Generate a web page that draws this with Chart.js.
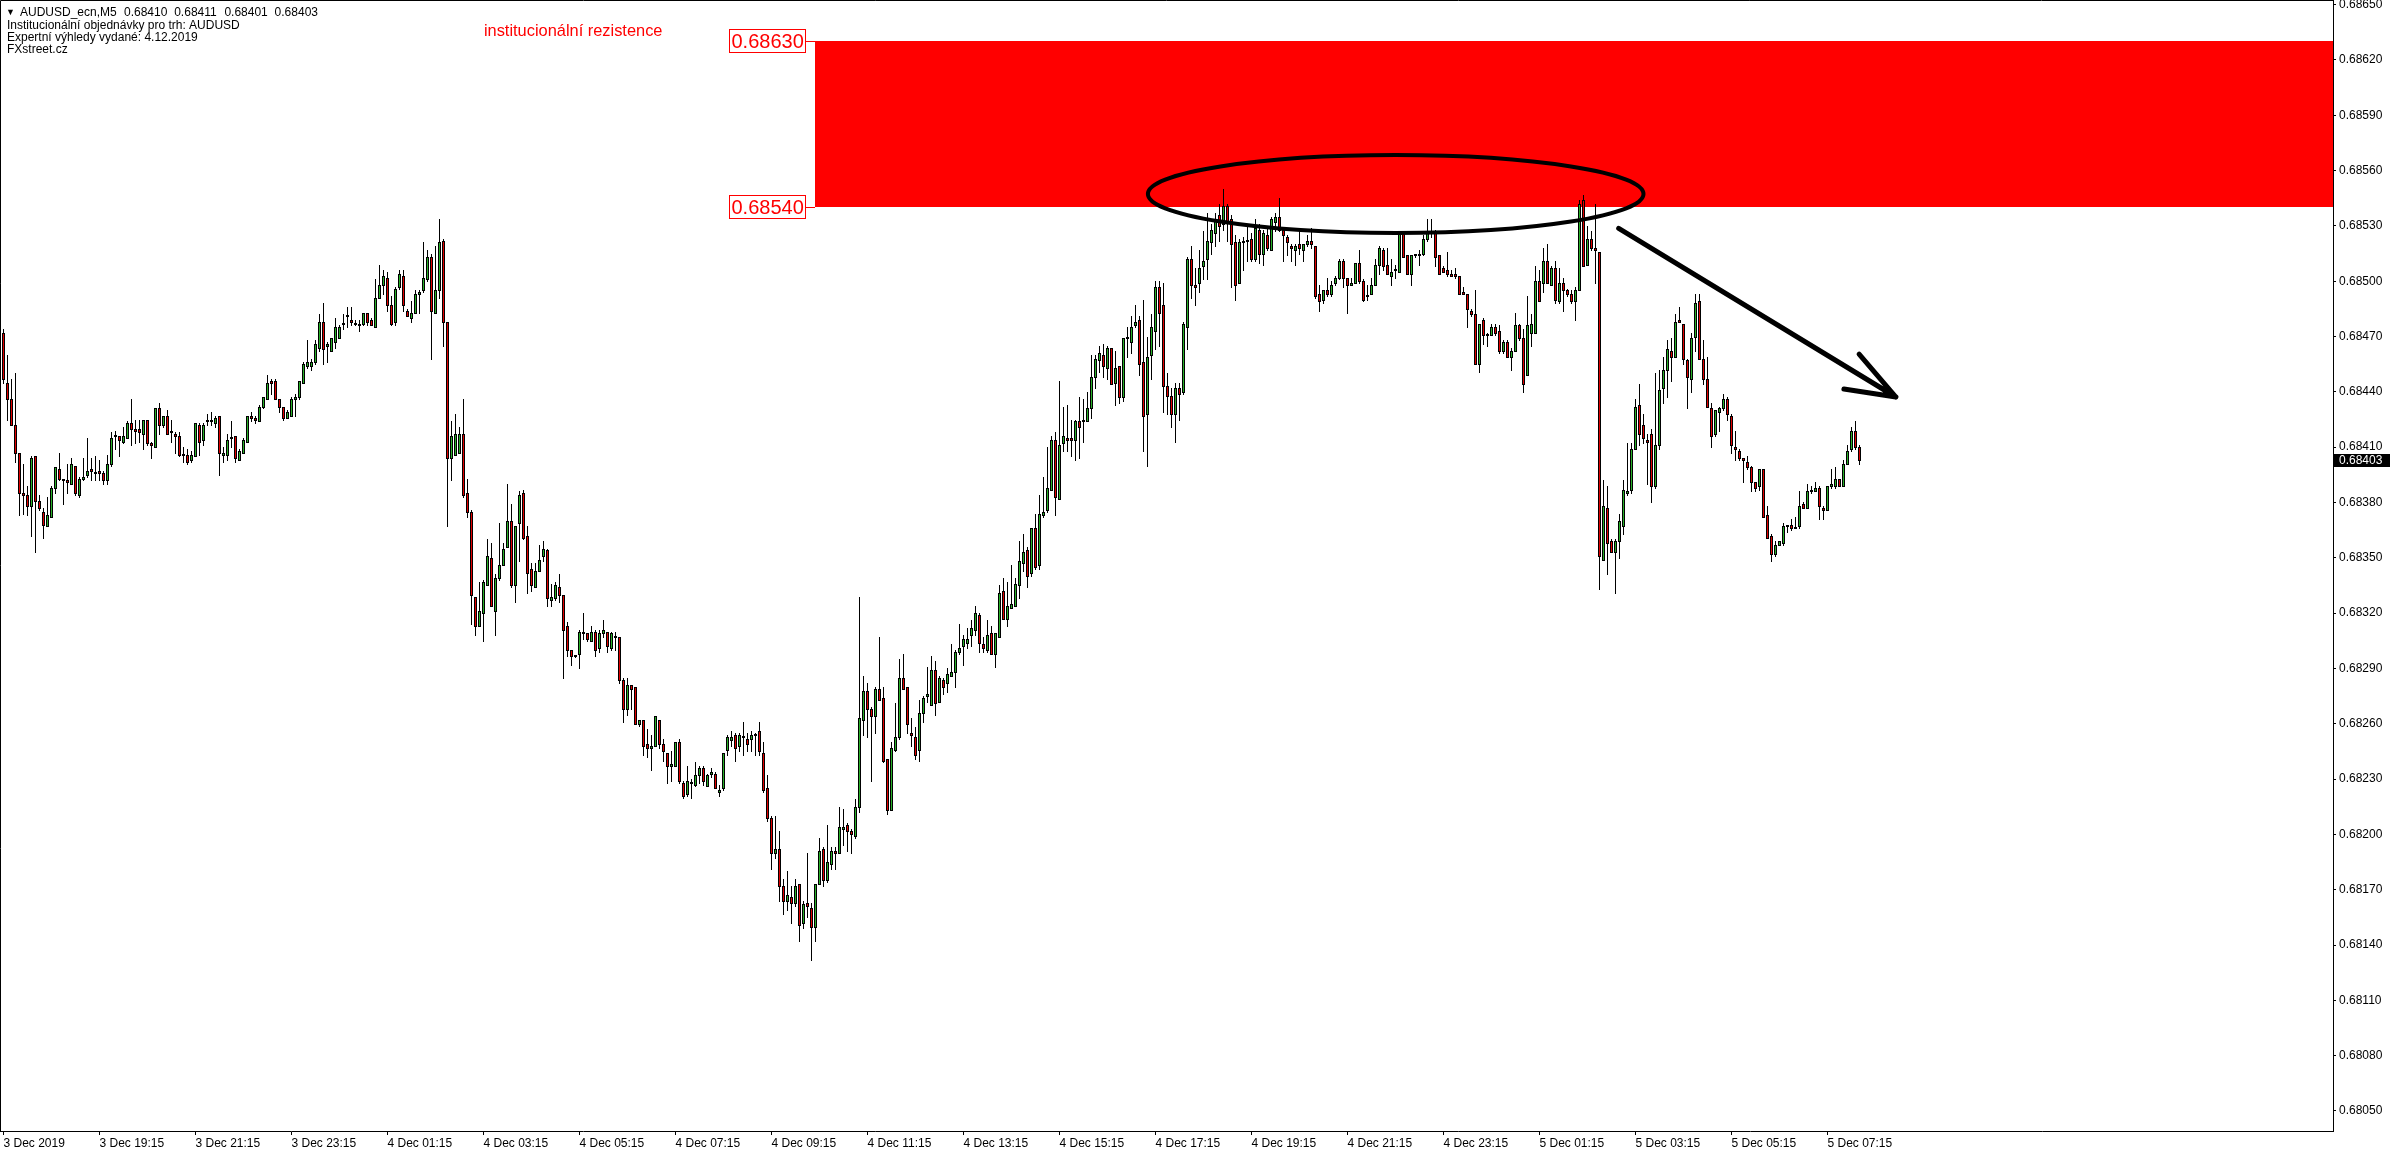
<!DOCTYPE html>
<html>
<head>
<meta charset="utf-8">
<title>AUDUSD_ecn M5</title>
<script src="https://cdn.jsdelivr.net/npm/chart.js@4.4.1/dist/chart.umd.min.js"></script>
<style>
html,body{margin:0;padding:0;background:#ffffff;overflow:hidden;}
canvas{display:block;}
</style>
</head>
<body>
<canvas id="chart" width="2396" height="1154"></canvas>
<script>
// ---------------- data ----------------
const symbolTitle = 'AUDUSD_ecn,M5';
const infoLines = ['Institucionální objednávky pro trh: AUDUSD', 'Expertní výhledy vydané: 4.12.2019', 'FXstreet.cz'];
const zoneTitle = 'institucionální rezistence';

const xTickBars = [0,24,48,72,96,120,144,168,192,216,240,264,288,312,336,360,384,408,432,456];
const xTickLabels = ['3 Dec 2019','3 Dec 19:15','3 Dec 21:15','3 Dec 23:15','4 Dec 01:15','4 Dec 03:15','4 Dec 05:15','4 Dec 07:15','4 Dec 09:15','4 Dec 11:15','4 Dec 13:15','4 Dec 15:15','4 Dec 17:15','4 Dec 19:15','4 Dec 21:15','4 Dec 23:15','5 Dec 01:15','5 Dec 03:15','5 Dec 05:15','5 Dec 07:15'];
const yTickValues = [0.68050,0.68080,0.68110,0.68140,0.68170,0.68200,0.68230,0.68260,0.68290,0.68320,0.68350,0.68380,0.68410,0.68440,0.68470,0.68500,0.68530,0.68560,0.68590,0.68620,0.68650];

const openPrices = [
0.68472,0.68445,0.68436,0.68422,0.68407,0.68385,0.68384,0.68378,0.68405,0.68381,
0.68375,0.68367,0.68372,0.68388,0.68398,0.68392,0.68392,0.68390,0.68400,0.68384,
0.68393,0.68395,0.68398,0.68396,0.68397,0.68396,0.68392,0.68401,0.68416,0.68416,
0.68413,0.68415,0.68423,0.68420,0.68420,0.68417,0.68425,0.68412,0.68410,0.68431,
0.68422,0.68427,0.68419,0.68417,0.68416,0.68406,0.68406,0.68403,0.68405,0.68422,
0.68414,0.68425,0.68424,0.68423,0.68427,0.68406,0.68406,0.68415,0.68416,0.68403,
0.68407,0.68413,0.68427,0.68426,0.68424,0.68432,0.68436,0.68446,0.68446,0.68436,
0.68432,0.68426,0.68427,0.68436,0.68437,0.68445,0.68454,0.68454,0.68456,0.68464,
0.68478,0.68465,0.68462,0.68467,0.68469,0.68477,0.68481,0.68479,0.68477,0.68476,
0.68477,0.68483,0.68479,0.68475,0.68491,0.68498,0.68502,0.68487,0.68478,0.68497,
0.68503,0.68484,0.68480,0.68483,0.68493,0.68495,0.68501,0.68513,0.68483,0.68495,
0.68522,0.68478,0.68404,0.68406,0.68407,0.68417,0.68385,0.68375,0.68329,0.68313,
0.68320,0.68335,0.68350,0.68321,0.68339,0.68346,0.68356,0.68370,0.68335,0.68369,
0.68385,0.68362,0.68344,0.68334,0.68343,0.68351,0.68354,0.68327,0.68328,0.68334,
0.68330,0.68313,0.68300,0.68297,0.68298,0.68309,0.68309,0.68305,0.68310,0.68301,
0.68309,0.68310,0.68301,0.68307,0.68307,0.68284,0.68268,0.68281,0.68280,0.68260,
0.68262,0.68249,0.68247,0.68248,0.68262,0.68249,0.68244,0.68237,0.68237,0.68250,
0.68228,0.68222,0.68228,0.68227,0.68232,0.68236,0.68226,0.68233,0.68233,0.68223,
0.68225,0.68246,0.68251,0.68254,0.68248,0.68253,0.68252,0.68252,0.68254,0.68256,
0.68244,0.68225,0.68209,0.68190,0.68192,0.68172,0.68164,0.68166,0.68163,0.68173,
0.68152,0.68163,0.68160,0.68150,0.68173,0.68192,0.68175,0.68184,0.68191,0.68190,
0.68203,0.68205,0.68202,0.68199,0.68215,0.68262,0.68278,0.68268,0.68264,0.68279,
0.68274,0.68241,0.68213,0.68246,0.68253,0.68285,0.68280,0.68255,0.68253,0.68246,
0.68266,0.68275,0.68270,0.68289,0.68272,0.68284,0.68282,0.68286,0.68288,0.68299,
0.68302,0.68304,0.68308,0.68311,0.68319,0.68303,0.68300,0.68309,0.68298,0.68307,
0.68332,0.68317,0.68323,0.68324,0.68335,0.68347,0.68354,0.68342,0.68366,0.68346,
0.68373,0.68376,0.68387,0.68414,0.68382,0.68412,0.68415,0.68415,0.68414,0.68424,
0.68424,0.68424,0.68431,0.68448,0.68457,0.68460,0.68453,0.68464,0.68445,0.68454,
0.68437,0.68469,0.68467,0.68476,0.68479,0.68456,0.68428,0.68460,0.68473,0.68497,
0.68487,0.68443,0.68438,0.68428,0.68442,0.68440,0.68475,0.68512,0.68498,0.68499,
0.68508,0.68512,0.68521,0.68526,0.68536,0.68531,0.68541,0.68534,0.68521,0.68499,
0.68521,0.68522,0.68523,0.68512,0.68528,0.68515,0.68525,0.68517,0.68532,0.68535,
0.68528,0.68524,0.68519,0.68517,0.68520,0.68517,0.68520,0.68522,0.68519,0.68493,
0.68490,0.68495,0.68493,0.68499,0.68502,0.68511,0.68502,0.68498,0.68499,0.68510,
0.68500,0.68492,0.68493,0.68498,0.68509,0.68517,0.68509,0.68503,0.68506,0.68505,
0.68526,0.68514,0.68504,0.68514,0.68515,0.68515,0.68523,0.68527,0.68527,0.68514,
0.68507,0.68506,0.68504,0.68504,0.68503,0.68494,0.68493,0.68484,0.68482,0.68455,
0.68479,0.68471,0.68471,0.68475,0.68473,0.68462,0.68467,0.68459,0.68462,0.68476,
0.68469,0.68449,0.68472,0.68472,0.68500,0.68499,0.68511,0.68498,0.68507,0.68489,
0.68499,0.68495,0.68493,0.68489,0.68495,0.68544,0.68509,0.68523,0.68518,0.68516,
0.68349,0.68377,0.68359,0.68353,0.68359,0.68367,0.68385,0.68387,0.68409,0.68433,
0.68422,0.68414,0.68417,0.68389,0.68411,0.68442,0.68452,0.68462,0.68459,0.68479,
0.68477,0.68457,0.68447,0.68470,0.68489,0.68458,0.68447,0.68431,0.68417,0.68429,
0.68431,0.68436,0.68427,0.68410,0.68408,0.68404,0.68402,0.68399,0.68391,0.68389,
0.68398,0.68373,0.68362,0.68352,0.68357,0.68358,0.68367,0.68368,0.68366,0.68367,
0.68379,0.68377,0.68387,0.68386,0.68388,0.68377,0.68376,0.68389,0.68389,0.68393,
0.68389,0.68401,0.68409,0.68419,0.68410];

const highPrices = [
0.68474,0.68460,0.68447,0.68450,0.68407,0.68401,0.68389,0.68405,0.68405,0.68384,
0.68377,0.68383,0.68389,0.68399,0.68407,0.68393,0.68401,0.68404,0.68400,0.68394,
0.68404,0.68415,0.68404,0.68405,0.68403,0.68397,0.68406,0.68418,0.68419,0.68416,
0.68421,0.68424,0.68436,0.68425,0.68425,0.68425,0.68425,0.68413,0.68431,0.68434,
0.68427,0.68430,0.68425,0.68418,0.68418,0.68410,0.68409,0.68408,0.68423,0.68423,
0.68423,0.68428,0.68429,0.68427,0.68427,0.68410,0.68417,0.68424,0.68416,0.68409,
0.68415,0.68427,0.68429,0.68427,0.68433,0.68437,0.68449,0.68447,0.68447,0.68436,
0.68432,0.68430,0.68437,0.68439,0.68446,0.68456,0.68468,0.68458,0.68468,0.68482,
0.68488,0.68467,0.68469,0.68480,0.68476,0.68482,0.68486,0.68486,0.68479,0.68479,
0.68483,0.68483,0.68480,0.68501,0.68509,0.68506,0.68505,0.68492,0.68497,0.68506,
0.68506,0.68485,0.68489,0.68495,0.68495,0.68521,0.68517,0.68515,0.68519,0.68534,
0.68523,0.68478,0.68424,0.68428,0.68421,0.68436,0.68393,0.68376,0.68329,0.68337,
0.68338,0.68360,0.68358,0.68341,0.68369,0.68358,0.68390,0.68379,0.68367,0.68386,
0.68387,0.68367,0.68347,0.68347,0.68357,0.68359,0.68355,0.68336,0.68337,0.68341,
0.68330,0.68315,0.68300,0.68297,0.68311,0.68320,0.68309,0.68313,0.68311,0.68311,
0.68316,0.68310,0.68310,0.68310,0.68307,0.68285,0.68285,0.68281,0.68280,0.68262,
0.68262,0.68257,0.68254,0.68264,0.68262,0.68252,0.68244,0.68245,0.68250,0.68252,
0.68229,0.68237,0.68230,0.68239,0.68237,0.68237,0.68233,0.68236,0.68234,0.68227,
0.68244,0.68254,0.68256,0.68255,0.68255,0.68261,0.68255,0.68256,0.68255,0.68261,
0.68250,0.68232,0.68210,0.68210,0.68202,0.68176,0.68180,0.68172,0.68176,0.68173,
0.68164,0.68190,0.68163,0.68173,0.68198,0.68193,0.68205,0.68193,0.68193,0.68215,
0.68214,0.68206,0.68203,0.68219,0.68329,0.68286,0.68282,0.68269,0.68280,0.68307,
0.68280,0.68241,0.68250,0.68271,0.68295,0.68298,0.68280,0.68263,0.68258,0.68273,
0.68275,0.68291,0.68297,0.68294,0.68286,0.68285,0.68290,0.68303,0.68300,0.68314,
0.68308,0.68312,0.68316,0.68324,0.68320,0.68307,0.68316,0.68313,0.68309,0.68335,
0.68339,0.68337,0.68346,0.68339,0.68359,0.68363,0.68356,0.68366,0.68374,0.68384,
0.68394,0.68410,0.68416,0.68418,0.68446,0.68432,0.68433,0.68425,0.68425,0.68437,
0.68436,0.68440,0.68460,0.68460,0.68465,0.68466,0.68465,0.68464,0.68462,0.68454,
0.68469,0.68475,0.68481,0.68487,0.68481,0.68490,0.68470,0.68482,0.68500,0.68500,
0.68499,0.68450,0.68442,0.68445,0.68445,0.68478,0.68513,0.68519,0.68507,0.68517,
0.68527,0.68537,0.68531,0.68537,0.68542,0.68550,0.68542,0.68536,0.68525,0.68523,
0.68524,0.68531,0.68526,0.68534,0.68531,0.68528,0.68530,0.68535,0.68537,0.68545,
0.68529,0.68525,0.68520,0.68520,0.68528,0.68520,0.68525,0.68529,0.68519,0.68498,
0.68495,0.68502,0.68500,0.68503,0.68512,0.68512,0.68502,0.68502,0.68510,0.68517,
0.68501,0.68498,0.68502,0.68512,0.68519,0.68518,0.68518,0.68512,0.68509,0.68527,
0.68527,0.68514,0.68514,0.68515,0.68517,0.68525,0.68534,0.68534,0.68528,0.68514,
0.68508,0.68516,0.68506,0.68507,0.68503,0.68497,0.68493,0.68485,0.68495,0.68477,
0.68480,0.68472,0.68477,0.68477,0.68476,0.68468,0.68468,0.68464,0.68483,0.68477,
0.68474,0.68492,0.68482,0.68508,0.68506,0.68518,0.68520,0.68508,0.68511,0.68507,
0.68502,0.68496,0.68495,0.68497,0.68544,0.68547,0.68530,0.68527,0.68542,0.68516,
0.68392,0.68389,0.68360,0.68360,0.68374,0.68392,0.68412,0.68412,0.68436,0.68444,
0.68428,0.68417,0.68420,0.68450,0.68452,0.68459,0.68468,0.68469,0.68482,0.68486,
0.68477,0.68458,0.68472,0.68493,0.68493,0.68468,0.68459,0.68434,0.68430,0.68432,
0.68439,0.68437,0.68428,0.68419,0.68409,0.68404,0.68405,0.68400,0.68391,0.68398,
0.68398,0.68378,0.68363,0.68359,0.68359,0.68369,0.68368,0.68371,0.68372,0.68386,
0.68380,0.68390,0.68389,0.68391,0.68389,0.68378,0.68389,0.68398,0.68399,0.68393,
0.68403,0.68411,0.68421,0.68424,0.68411];

const lowPrices = [
0.68445,0.68425,0.68422,0.68402,0.68373,0.68374,0.68373,0.68362,0.68353,0.68376,
0.68361,0.68367,0.68372,0.68385,0.68392,0.68379,0.68385,0.68390,0.68384,0.68383,
0.68392,0.68394,0.68392,0.68392,0.68392,0.68390,0.68390,0.68400,0.68409,0.68405,
0.68412,0.68415,0.68411,0.68412,0.68413,0.68409,0.68411,0.68404,0.68410,0.68417,
0.68421,0.68417,0.68413,0.68407,0.68405,0.68402,0.68401,0.68402,0.68405,0.68406,
0.68411,0.68422,0.68422,0.68421,0.68395,0.68402,0.68403,0.68410,0.68402,0.68403,
0.68407,0.68413,0.68424,0.68423,0.68424,0.68431,0.68436,0.68439,0.68436,0.68429,
0.68425,0.68426,0.68427,0.68427,0.68436,0.68445,0.68453,0.68452,0.68455,0.68462,
0.68455,0.68456,0.68462,0.68464,0.68469,0.68474,0.68475,0.68476,0.68476,0.68473,
0.68476,0.68476,0.68476,0.68475,0.68491,0.68493,0.68484,0.68476,0.68476,0.68496,
0.68484,0.68481,0.68478,0.68483,0.68483,0.68494,0.68500,0.68458,0.68483,0.68491,
0.68465,0.68367,0.68392,0.68406,0.68407,0.68383,0.68372,0.68314,0.68308,0.68313,
0.68305,0.68335,0.68324,0.68308,0.68338,0.68346,0.68356,0.68334,0.68326,0.68348,
0.68360,0.68331,0.68332,0.68334,0.68343,0.68348,0.68324,0.68324,0.68327,0.68326,
0.68285,0.68297,0.68292,0.68296,0.68290,0.68306,0.68305,0.68305,0.68297,0.68299,
0.68307,0.68299,0.68300,0.68300,0.68282,0.68261,0.68265,0.68268,0.68260,0.68259,
0.68243,0.68242,0.68235,0.68248,0.68247,0.68240,0.68228,0.68229,0.68237,0.68228,
0.68220,0.68221,0.68220,0.68226,0.68228,0.68227,0.68226,0.68231,0.68225,0.68221,
0.68224,0.68243,0.68248,0.68240,0.68245,0.68243,0.68245,0.68245,0.68243,0.68243,
0.68223,0.68207,0.68181,0.68187,0.68164,0.68157,0.68159,0.68152,0.68161,0.68142,
0.68149,0.68155,0.68132,0.68142,0.68173,0.68172,0.68174,0.68181,0.68181,0.68190,
0.68194,0.68191,0.68190,0.68198,0.68212,0.68254,0.68253,0.68229,0.68255,0.68273,
0.68239,0.68211,0.68213,0.68245,0.68252,0.68279,0.68255,0.68248,0.68241,0.68240,
0.68261,0.68272,0.68270,0.68265,0.68272,0.68276,0.68277,0.68286,0.68280,0.68298,
0.68292,0.68301,0.68302,0.68308,0.68299,0.68299,0.68299,0.68298,0.68291,0.68307,
0.68317,0.68313,0.68323,0.68324,0.68328,0.68343,0.68334,0.68340,0.68344,0.68344,
0.68372,0.68375,0.68387,0.68373,0.68382,0.68408,0.68408,0.68405,0.68403,0.68404,
0.68413,0.68424,0.68426,0.68442,0.68451,0.68448,0.68447,0.68444,0.68433,0.68434,
0.68435,0.68459,0.68461,0.68475,0.68449,0.68408,0.68400,0.68447,0.68463,0.68465,
0.68429,0.68428,0.68421,0.68413,0.68425,0.68439,0.68463,0.68491,0.68487,0.68494,
0.68501,0.68501,0.68515,0.68519,0.68522,0.68528,0.68522,0.68497,0.68490,0.68499,
0.68506,0.68511,0.68511,0.68511,0.68510,0.68509,0.68517,0.68517,0.68527,0.68527,
0.68511,0.68514,0.68511,0.68509,0.68515,0.68511,0.68519,0.68518,0.68491,0.68484,
0.68488,0.68492,0.68492,0.68498,0.68501,0.68497,0.68483,0.68498,0.68499,0.68499,
0.68489,0.68490,0.68493,0.68498,0.68504,0.68506,0.68504,0.68498,0.68502,0.68505,
0.68513,0.68504,0.68498,0.68513,0.68509,0.68514,0.68522,0.68524,0.68508,0.68504,
0.68505,0.68503,0.68503,0.68502,0.68493,0.68493,0.68475,0.68481,0.68455,0.68451,
0.68466,0.68465,0.68471,0.68471,0.68461,0.68461,0.68459,0.68452,0.68462,0.68468,
0.68440,0.68449,0.68465,0.68472,0.68489,0.68494,0.68499,0.68498,0.68488,0.68488,
0.68484,0.68492,0.68488,0.68479,0.68495,0.68508,0.68509,0.68517,0.68499,0.68333,
0.68349,0.68341,0.68353,0.68331,0.68350,0.68363,0.68384,0.68385,0.68409,0.68411,
0.68412,0.68390,0.68380,0.68388,0.68409,0.68434,0.68437,0.68446,0.68459,0.68478,
0.68455,0.68431,0.68440,0.68462,0.68458,0.68444,0.68432,0.68410,0.68416,0.68419,
0.68430,0.68425,0.68407,0.68403,0.68403,0.68391,0.68398,0.68386,0.68386,0.68387,
0.68372,0.68361,0.68348,0.68351,0.68357,0.68357,0.68364,0.68365,0.68366,0.68366,
0.68377,0.68377,0.68385,0.68386,0.68371,0.68371,0.68376,0.68388,0.68388,0.68389,
0.68389,0.68401,0.68408,0.68409,0.68401];

const closePrices = [
0.68447,0.68436,0.68422,0.68407,0.68385,0.68384,0.68378,0.68404,0.68381,0.68377,
0.68368,0.68373,0.68388,0.68399,0.68393,0.68392,0.68391,0.68401,0.68385,0.68393,
0.68394,0.68397,0.68397,0.68396,0.68396,0.68392,0.68401,0.68415,0.68416,0.68414,
0.68416,0.68423,0.68420,0.68419,0.68418,0.68425,0.68412,0.68411,0.68431,0.68422,
0.68427,0.68417,0.68418,0.68416,0.68406,0.68406,0.68402,0.68406,0.68423,0.68413,
0.68422,0.68424,0.68424,0.68426,0.68407,0.68407,0.68414,0.68415,0.68404,0.68408,
0.68414,0.68427,0.68426,0.68425,0.68432,0.68437,0.68445,0.68445,0.68436,0.68432,
0.68426,0.68429,0.68436,0.68437,0.68446,0.68455,0.68456,0.68456,0.68466,0.68478,
0.68463,0.68466,0.68469,0.68475,0.68475,0.68477,0.68481,0.68478,0.68477,0.68476,
0.68483,0.68478,0.68476,0.68491,0.68498,0.68503,0.68487,0.68477,0.68496,0.68504,
0.68487,0.68481,0.68483,0.68493,0.68494,0.68502,0.68513,0.68484,0.68495,0.68521,
0.68478,0.68404,0.68416,0.68417,0.68417,0.68384,0.68375,0.68330,0.68313,0.68321,
0.68337,0.68351,0.68324,0.68339,0.68346,0.68355,0.68370,0.68335,0.68367,0.68384,
0.68361,0.68342,0.68335,0.68343,0.68349,0.68355,0.68328,0.68329,0.68335,0.68330,
0.68311,0.68300,0.68297,0.68297,0.68310,0.68309,0.68306,0.68310,0.68300,0.68309,
0.68311,0.68302,0.68309,0.68307,0.68284,0.68268,0.68281,0.68279,0.68260,0.68262,
0.68248,0.68247,0.68248,0.68264,0.68249,0.68245,0.68237,0.68238,0.68250,0.68229,
0.68221,0.68229,0.68228,0.68232,0.68236,0.68229,0.68232,0.68234,0.68225,0.68224,
0.68244,0.68253,0.68253,0.68247,0.68254,0.68253,0.68249,0.68254,0.68254,0.68245,
0.68224,0.68209,0.68190,0.68192,0.68172,0.68164,0.68167,0.68163,0.68172,0.68151,
0.68162,0.68161,0.68150,0.68173,0.68191,0.68175,0.68185,0.68191,0.68190,0.68204,
0.68204,0.68202,0.68200,0.68215,0.68263,0.68278,0.68268,0.68264,0.68279,0.68273,
0.68240,0.68213,0.68247,0.68253,0.68285,0.68279,0.68260,0.68254,0.68243,0.68266,
0.68274,0.68276,0.68289,0.68271,0.68285,0.68280,0.68287,0.68288,0.68299,0.68301,
0.68306,0.68306,0.68312,0.68320,0.68304,0.68301,0.68308,0.68298,0.68309,0.68331,
0.68317,0.68324,0.68325,0.68336,0.68348,0.68353,0.68340,0.68366,0.68345,0.68374,
0.68375,0.68388,0.68414,0.68383,0.68411,0.68416,0.68414,0.68414,0.68424,0.68421,
0.68424,0.68431,0.68448,0.68458,0.68461,0.68454,0.68464,0.68444,0.68453,0.68437,
0.68469,0.68469,0.68475,0.68478,0.68455,0.68427,0.68459,0.68475,0.68497,0.68483,
0.68443,0.68438,0.68428,0.68442,0.68439,0.68477,0.68512,0.68498,0.68497,0.68507,
0.68511,0.68522,0.68528,0.68533,0.68530,0.68541,0.68532,0.68520,0.68498,0.68521,
0.68522,0.68522,0.68512,0.68529,0.68515,0.68526,0.68518,0.68534,0.68535,0.68528,
0.68525,0.68521,0.68518,0.68519,0.68518,0.68520,0.68522,0.68520,0.68492,0.68489,
0.68495,0.68493,0.68498,0.68502,0.68511,0.68502,0.68498,0.68499,0.68510,0.68500,
0.68490,0.68492,0.68498,0.68509,0.68518,0.68508,0.68504,0.68505,0.68506,0.68526,
0.68513,0.68504,0.68514,0.68514,0.68514,0.68523,0.68526,0.68526,0.68513,0.68504,
0.68505,0.68504,0.68503,0.68503,0.68493,0.68493,0.68485,0.68482,0.68455,0.68477,
0.68471,0.68471,0.68475,0.68472,0.68462,0.68467,0.68459,0.68462,0.68476,0.68469,
0.68444,0.68476,0.68477,0.68500,0.68489,0.68511,0.68499,0.68507,0.68490,0.68499,
0.68495,0.68493,0.68489,0.68495,0.68542,0.68508,0.68523,0.68518,0.68517,0.68351,
0.68378,0.68358,0.68353,0.68359,0.68370,0.68387,0.68386,0.68409,0.68432,0.68417,
0.68415,0.68413,0.68389,0.68411,0.68441,0.68452,0.68463,0.68459,0.68478,0.68478,
0.68458,0.68448,0.68469,0.68488,0.68458,0.68447,0.68432,0.68416,0.68430,0.68431,
0.68436,0.68428,0.68411,0.68409,0.68404,0.68403,0.68399,0.68391,0.68388,0.68398,
0.68372,0.68361,0.68352,0.68357,0.68359,0.68367,0.68367,0.68366,0.68366,0.68378,
0.68377,0.68386,0.68386,0.68388,0.68378,0.68376,0.68389,0.68390,0.68393,0.68389,
0.68401,0.68408,0.68419,0.68410,0.68403];

// drawn objects, in chart coordinates (bar index, price)
const zoneTop = 0.68630;
const zoneBottom = 0.68540;
const zoneStartBar = 202.9;
const zoneTitleAnchor = [120.1, 0.686353];
const ellipseBars = [286.1, 410.0];
const ellipsePrices = [0.685262, 0.685684];
const arrowFrom = [403.8, 0.685287];
const arrowTo = [473.1, 0.684372];
const arrowBarbs = [[463.9, 0.684605], [460.1, 0.684415]];

// visible ranges of the axes
const xRange = [-0.875, 582.375];
const yRange = [0.6803915, 0.686525];

// ---------------- styling ----------------
const BULL = '#28B028';
const BEAR = '#E00000';
const FONT = "'Liberation Sans', Arial, sans-serif";

const wickData = lowPrices.map((l, i) => ({x: i, y: [l, highPrices[i]]}));
const bodyData = openPrices.map((o, i) => ({x: i, y: [Math.min(o, closePrices[i]), Math.max(o, closePrices[i])]}));
const bodyColors = openPrices.map((o, i) => closePrices[i] > o ? BULL : (closePrices[i] < o ? BEAR : '#000000'));

// snap the library-computed bar edges to whole pixels, as the terminal does
const pixelSnap = {
  id: 'pixelSnap',
  beforeDatasetsDraw(chart) {
    chart.data.datasets.forEach((ds, k) => {
      chart.getDatasetMeta(k).data.forEach(el => {
        const top = Math.round(Math.min(el.y, el.base));
        const bot = Math.round(Math.max(el.y, el.base)) + 1;
        el.y = top; el.base = bot;
      });
    });
  }
};

const overlay = {
  id: 'overlay',
  beforeDatasetsDraw(chart) {
    const {ctx, chartArea: a, scales: {x, y}} = chart;
    const xl = x.getPixelForValue(zoneStartBar);
    const yt = y.getPixelForValue(zoneTop);
    const yb = y.getPixelForValue(zoneBottom);
    ctx.save();
    ctx.fillStyle = '#FF0000';
    ctx.fillRect(Math.round(xl), Math.round(yt), a.right - Math.round(xl), Math.round(yb) - Math.round(yt));
    ctx.restore();
  },
  afterDatasetsDraw(chart) {
    const {ctx, scales: {x, y}} = chart;
    ctx.save();
    // ellipse
    const x1 = x.getPixelForValue(ellipseBars[0]), x2 = x.getPixelForValue(ellipseBars[1]);
    const y1 = y.getPixelForValue(ellipsePrices[1]), y2 = y.getPixelForValue(ellipsePrices[0]);
    ctx.strokeStyle = '#000000';
    ctx.lineWidth = 4;
    ctx.beginPath();
    ctx.ellipse((x1 + x2) / 2, (y1 + y2) / 2, (x2 - x1) / 2, (y2 - y1) / 2, 0, 0, Math.PI * 2);
    ctx.stroke();
    // arrow
    const P = p => [x.getPixelForValue(p[0]), y.getPixelForValue(p[1])];
    const a0 = P(arrowFrom), a1 = P(arrowTo);
    ctx.lineWidth = 5;
    ctx.lineCap = 'round';
    ctx.beginPath();
    ctx.moveTo(a0[0], a0[1]); ctx.lineTo(a1[0], a1[1]);
    arrowBarbs.forEach(b => { const pb = P(b); ctx.moveTo(a1[0], a1[1]); ctx.lineTo(pb[0], pb[1]); });
    ctx.stroke();
    // zone price labels
    const xl = Math.round(x.getPixelForValue(zoneStartBar));
    ctx.font = '20px ' + FONT;
    ctx.textBaseline = 'middle';
    ctx.lineWidth = 1;
    ctx.lineCap = 'butt';
    [zoneTop, zoneBottom].forEach(v => {
      const py = Math.round(y.getPixelForValue(v));
      const txt = v.toFixed(5);
      const w = Math.round(ctx.measureText(txt).width + 4);
      const bx = xl - 10 - w;
      ctx.fillStyle = '#FFFFFF';
      ctx.fillRect(bx, py - 12, w, 24);
      ctx.strokeStyle = '#FF0000';
      ctx.strokeRect(bx + 0.5, py - 11.5, w, 23);
      ctx.beginPath();
      ctx.moveTo(bx + w, py + 0.5); ctx.lineTo(xl, py + 0.5);
      ctx.stroke();
      ctx.fillStyle = '#FF0000';
      ctx.fillText(txt, bx + 2.5, py + 1);
    });
    // zone title
    ctx.font = '16.4px ' + FONT;
    ctx.fillStyle = '#FF0000';
    ctx.fillText(zoneTitle, x.getPixelForValue(zoneTitleAnchor[0]), y.getPixelForValue(zoneTitleAnchor[1]));
    ctx.restore();
  },
  afterDraw(chart) {
    const {ctx, chartArea: a, scales: {y}} = chart;
    ctx.save();
    // frame
    ctx.strokeStyle = '#000000';
    ctx.lineWidth = 1;
    ctx.beginPath();
    ctx.moveTo(0.5, a.bottom); ctx.lineTo(0.5, 0.5); ctx.lineTo(a.right, 0.5);
    ctx.stroke();
    // header text: symbol and last bar's O H L C
    const last = openPrices.length - 1;
    ctx.fillStyle = '#000000';
    ctx.textBaseline = 'middle';
    ctx.font = '9px ' + FONT;
    ctx.fillText('\u25BC', 6, 13);
    ctx.font = '12px ' + FONT;
    ctx.fillText(symbolTitle, 20, 13);
    [openPrices[last], highPrices[last], lowPrices[last], closePrices[last]].forEach((v, k) => {
      ctx.fillText(v.toFixed(5), 124 + k * 50.2, 13);
    });
    infoLines.forEach((t, k) => ctx.fillText(t, 7, 25.5 + k * 12));
    // current price label
    const cp = closePrices[last];
    const py = Math.round(y.getPixelForValue(cp));
    ctx.fillStyle = '#000000';
    ctx.fillRect(a.right + 1, py - 6, 56, 13);
    ctx.fillStyle = '#FFFFFF';
    ctx.fillText(cp.toFixed(5), a.right + 6, py + 0.5);
    ctx.restore();
  }
};

new Chart(document.getElementById('chart').getContext('2d'), {
  type: 'bar',
  data: {
    datasets: [
      {label: 'wick', data: wickData, backgroundColor: '#000000', borderWidth: 0, barThickness: 1, grouped: false, inflateAmount: 0, order: 2},
      {label: 'body', data: bodyData, backgroundColor: bodyColors, borderColor: '#000000', borderWidth: 1, borderSkipped: false, barThickness: 3, grouped: false, minBarLength: 1, inflateAmount: 0, order: 1}
    ]
  },
  options: {
    responsive: false,
    animation: false,
    devicePixelRatio: 1,
    layout: {padding: 0, autoPadding: false},
    plugins: {legend: {display: false}, tooltip: {enabled: false}},
    scales: {
      x: {
        type: 'linear', bounds: 'data', min: xRange[0], max: xRange[1], offset: false,
        afterBuildTicks: s => { s.ticks = xTickBars.map(v => ({value: v})); },
        afterFit: s => { s.height = 23; s.paddingLeft = 0; s.paddingRight = 0; },
        ticks: {autoSkip: false, maxRotation: 0, minRotation: 0, align: 'start', padding: 1, color: '#000000', font: {family: FONT, size: 12},
          callback: (v, i) => xTickLabels[i]},
        grid: {drawOnChartArea: false, drawTicks: true, tickLength: 4, color: '#000000', offset: false},
        border: {display: true, color: '#000000', width: 1}
      },
      y: {
        type: 'linear', position: 'right', bounds: 'data', min: yRange[0], max: yRange[1],
        afterBuildTicks: s => { s.ticks = yTickValues.map(v => ({value: v})); },
        afterFit: s => { s.width = 63; s.paddingTop = 0; s.paddingBottom = 0; },
        ticks: {autoSkip: false, padding: 3, color: '#000000', font: {family: FONT, size: 12},
          callback: v => Number(v).toFixed(5)},
        grid: {drawOnChartArea: false, drawTicks: true, tickLength: 3, color: '#000000'},
        border: {display: true, color: '#000000', width: 1}
      }
    }
  },
  plugins: [pixelSnap, overlay]
});
</script>
</body>
</html>
